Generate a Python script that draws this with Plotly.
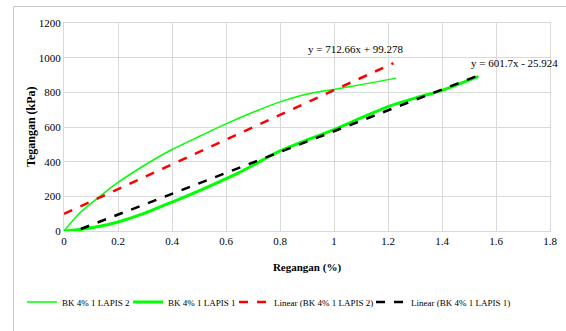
import plotly.graph_objects as go

# Data
lapis2_x = [0, 0.059, 0.133, 0.2, 0.294, 0.4, 0.5, 0.6, 0.7, 0.8, 0.886, 0.95, 1.0, 1.096, 1.23]
lapis2_y = [0, 105, 200, 280, 375, 470, 545, 618, 685, 745, 785, 805, 817, 843, 882]

lapis1_x = [0, 0.059, 0.133, 0.2, 0.294, 0.4, 0.504, 0.652, 0.8, 0.904, 1.0, 1.096, 1.2, 1.306, 1.4, 1.535]
lapis1_y = [0, 8, 27, 52, 100, 167, 235, 340, 462, 528, 585, 650, 718, 769, 811, 892]

# Linear trendline coefficients (as printed on the chart) and x-extent
fit2_slope, fit2_intercept = 712.66, 99.278
fit2_x = [0, 1.22]
fit1_slope, fit1_intercept = 601.7, -25.924
fit1_x = [0, 1.535]

fit2_y = [fit2_slope * x + fit2_intercept for x in fit2_x]
fit1_y = [fit1_slope * x + fit1_intercept for x in fit1_x]

x_ticks = [0, 0.2, 0.4, 0.6, 0.8, 1, 1.2, 1.4, 1.6, 1.8]
x_tick_labels = ["0", "0.2", "0.4", "0.6", "0.8", "1", "1.2", "1.4", "1.6", "1.8"]
y_ticks = [0, 200, 400, 600, 800, 1000, 1200]

series_names = ["BK 4% 1 LAPIS 2", "BK 4% 1 LAPIS 1",
                "Linear (BK 4% 1 LAPIS 2)", "Linear (BK 4% 1 LAPIS 1)"]

FONT = "Liberation Serif, Times New Roman, serif"

ml, mr, mt, mb = 64, 16, 23, 100
W, H = 566, 331
pw, ph = W - ml - mr, H - mt - mb

fig = go.Figure()
fig.add_trace(go.Scatter(x=lapis2_x, y=lapis2_y, mode="lines", name=series_names[0],
                         line=dict(color="#00FF00", width=1.5, shape="spline", smoothing=0.6),
                         legend="legend"))
fig.add_trace(go.Scatter(x=lapis1_x, y=lapis1_y, mode="lines", name=series_names[1],
                         line=dict(color="#00FF00", width=3, shape="spline", smoothing=0.6),
                         legend="legend2"))
fig.add_trace(go.Scatter(x=fit2_x, y=fit2_y, mode="lines", name=series_names[2],
                         line=dict(color="#FF0000", width=2.5, dash="dash"),
                         legend="legend3"))
fig.add_trace(go.Scatter(x=fit1_x, y=fit1_y, mode="lines", name=series_names[3],
                         line=dict(color="#000000", width=2.5, dash="dash"),
                         legend="legend4"))

fig.add_annotation(x=1.078, y=1049, text="y = 712.66x + 99.278", showarrow=False,
                   font=dict(family=FONT, size=11, color="#000"))
fig.add_annotation(x=1.67, y=968, text="y = 601.7x - 25.924", showarrow=False,
                   font=dict(family=FONT, size=11, color="#000"))

# y-axis title (placed as rotated annotation)
fig.add_annotation(xref="paper", yref="paper", x=(31 - ml) / pw, y=(231 - 127) / ph,
                   text="<b>Tegangan (kPa)</b>", textangle=-90, showarrow=False,
                   xanchor="center", yanchor="middle",
                   font=dict(family=FONT, size=12, color="#000"))

# outer chart border (top and left edges visible)
bx0 = (13.5 - ml) / pw
by1 = (ph + mt - 6.5) / ph
fig.add_shape(type="line", xref="paper", yref="paper",
              x0=bx0, x1=(W - ml) / pw, y0=by1, y1=by1,
              line=dict(color="#c8c8c8", width=1), layer="above")
fig.add_shape(type="line", xref="paper", yref="paper",
              x0=bx0, x1=bx0, y0=-(H - mt - ph) / ph, y1=by1,
              line=dict(color="#c8c8c8", width=1), layer="above")

legend_y = -(302 - mt - ph) / ph
legend_left_px = [22, 128, 234, 371]


def legend_cfg(px):
    return dict(orientation="h", x=(px - ml) / pw, xanchor="left",
                y=legend_y, yanchor="middle", bgcolor="rgba(0,0,0,0)",
                font=dict(family=FONT, size=9), itemwidth=30)


fig.update_layout(
    width=W, height=H,
    margin=dict(l=ml, r=mr, t=mt, b=mb, autoexpand=False),
    paper_bgcolor="white", plot_bgcolor="white",
    font=dict(family=FONT, size=11, color="#000"),
    showlegend=True,
    legend=legend_cfg(legend_left_px[0]),
    legend2=legend_cfg(legend_left_px[1]),
    legend3=legend_cfg(legend_left_px[2]),
    legend4=legend_cfg(legend_left_px[3]),
    xaxis=dict(range=[0, 1.8], tickvals=x_ticks, ticktext=x_tick_labels,
               showgrid=True, gridcolor="#d9d9d9", gridwidth=1, automargin=False,
               showline=True, linecolor="#d9d9d9", mirror=True, zeroline=False,
               ticks="", tickfont=dict(size=11),
               title=dict(text="<b>Regangan (%)</b>", font=dict(size=11), standoff=17)),
    yaxis=dict(range=[0, 1200], tickvals=y_ticks, automargin=False,
               showgrid=True, gridcolor="#d9d9d9", gridwidth=1,
               showline=True, linecolor="#d9d9d9", mirror=True, zeroline=False,
               ticks="", tickfont=dict(size=11)),
)

fig.write_html("out.html", config={"displayModeBar": False},
               post_script="document.body.style.margin='0';")
